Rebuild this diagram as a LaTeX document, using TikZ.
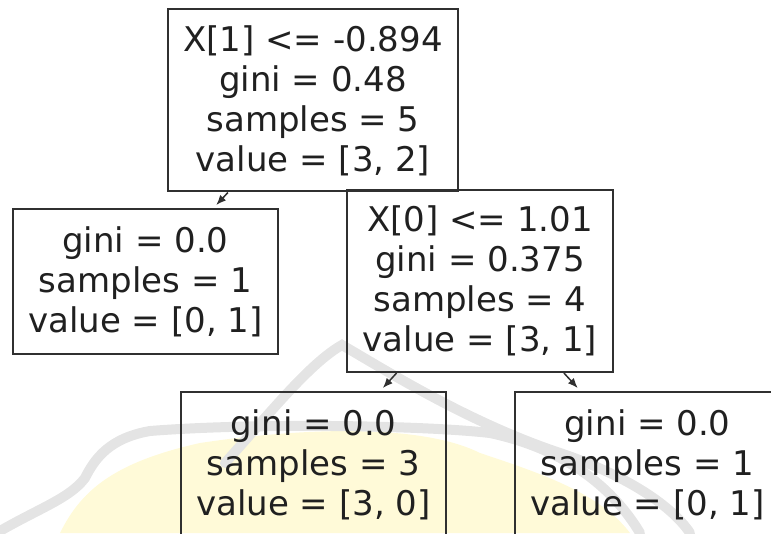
\documentclass[tikz,border=0pt]{standalone}
\usepackage{fontspec}
\setmainfont{DejaVu Sans}
\usetikzlibrary{arrows.meta}
\definecolor{boxline}{HTML}{303030}
\definecolor{txt}{HTML}{202020}
\definecolor{wmyellow}{HTML}{FFFAD8}
\definecolor{wmgrey}{HTML}{E4E4E4}
\begin{document}
\begin{tikzpicture}[x=1pt,y=1pt,
  treebox/.style={draw=boxline, line width=2pt, text=txt, rectangle,
    font=\fontsize{34}{40}\selectfont, align=center, inner sep=0pt},
  box4/.style={treebox, minimum width=#1, minimum height=182pt},
  box3/.style={treebox, minimum width=265pt, minimum height=145pt},
  edge/.style={draw=boxline, line width=1.5pt, -{Latex[length=10pt,width=8pt]}, shorten >=4pt},
  wmband/.style={draw=wmgrey, line width=10pt, line cap=round}]
\useasboundingbox (0,0) rectangle (771,533);
\clip (0,0) rectangle (771,533);
% faint watermark
\fill[wmyellow] (60,0) .. controls (80,40) and (110,70) .. (200,90)
  .. controls (300,105) and (420,110) .. (480,80)
  .. controls (540,60) and (600,40) .. (630,0) -- cycle;
\draw[wmband] (0,2) .. controls (40,25) and (70,35) .. (85,55)
  .. controls (95,75) and (110,95) .. (150,102)
  .. controls (250,110) and (420,108) .. (490,100)
  .. controls (560,85) and (610,50) .. (640,0);
\draw[wmband] (225,70) .. controls (270,120) and (310,170) .. (342,188)
  .. controls (390,160) and (470,110) .. (560,80)
  .. controls (620,60) and (670,30) .. (690,0);
% tree
\node[box4=290pt] (root) at (313,432.5) {X[1] <= -0.894\\gini = 0.48\\samples = 5\\value = [3, 2]};
\node[box3] (left) at (145.5,251.5) {gini = 0.0\\samples = 1\\value = [0, 1]};
\node[box4=266pt] (mid) at (480,252) {X[0] <= 1.01\\gini = 0.375\\samples = 4\\value = [3, 1]};
\node[box3] (bl) at (313.5,68.5) {gini = 0.0\\samples = 3\\value = [3, 0]};
\node[box3] (br) at (647.5,68.5) {gini = 0.0\\samples = 1\\value = [0, 1]};
\draw[edge] (root) -- (left);
\draw[edge] (mid) -- (bl);
\draw[edge] (mid) -- (br);
\end{tikzpicture}
\end{document}
